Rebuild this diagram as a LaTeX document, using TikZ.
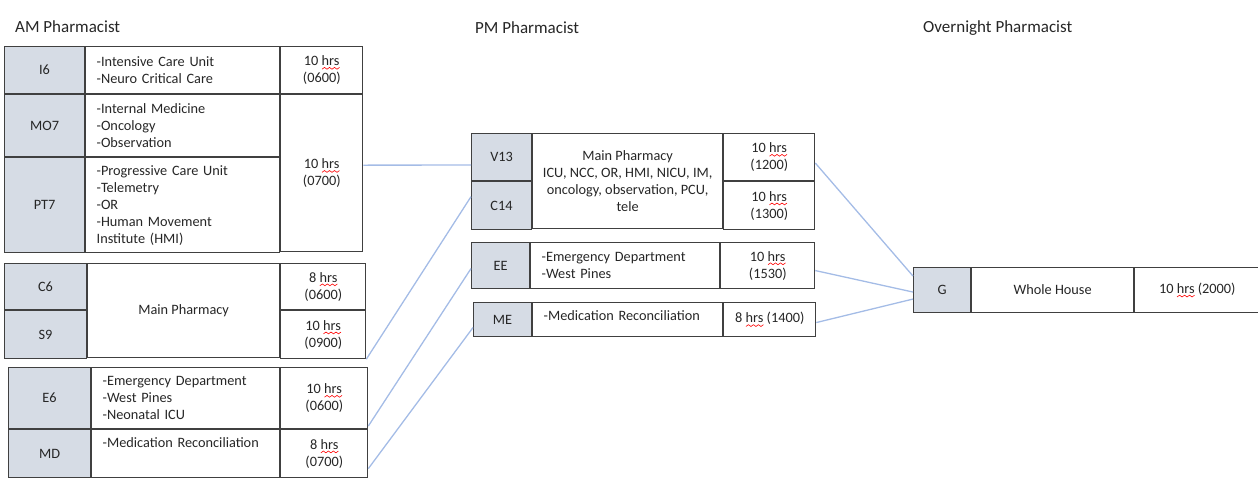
\documentclass[tikz,border=0pt]{standalone}
\usepackage{fontspec}
\setmainfont{Carlito}
\usepackage{tikz}
\usetikzlibrary{positioning}
\definecolor{keygrey}{RGB}{214,220,229}
\definecolor{cellline}{RGB}{64,64,64}
\definecolor{linkblue}{RGB}{164,188,230}
\definecolor{txt}{RGB}{38,38,38}
\tikzstyle{cell}=[draw=cellline, line width=1.1pt, inner sep=0pt, text=txt, font=\fontsize{14.3}{17}\selectfont]
\tikzstyle{keycell}=[cell, fill=keygrey, align=center]
\tikzstyle{listcell}=[cell, align=left, inner xsep=11pt]
\tikzstyle{midcell}=[cell, align=center]
\tikzstyle{head}=[anchor=west, inner sep=0pt, text=txt, font=\fontsize{17}{20}\selectfont]
\tikzstyle{link}=[draw=linkblue, line width=1.3pt]
% red spell-check wave under "hrs"
\newcommand{\hrsword}{\leavevmode\rlap{\raisebox{-4pt}{\tikz[x=1pt,y=1pt]\draw[red, line width=0.6pt] (0,0) \foreach \k in {1,...,7}{-- (\k*2.5,{mod(\k,2)*1.8})};}}hrs}

\begin{document}
\begin{tikzpicture}[x=1pt, y=-1pt]
\useasboundingbox (0,0) rectangle (1258,477);
%
  \node[head] (amh) at (15,27) {AM Pharmacist};
  \node[head] (pmh) at (475,28) {PM Pharmacist};
  \node[head] (onh) at (923,28) {Overnight Pharmacist};
% AM pharmacist
  \node[keycell, anchor=north west, minimum width=80pt, minimum height=47pt] (i6) at (4,46) {I6};
  \node[listcell, text width=172pt, minimum height=47pt, right=0pt of i6] (i6u) {-Intensive Care Unit\\-Neuro Critical Care};
  \node[midcell, minimum width=82pt, minimum height=47pt, right=0pt of i6u] (i6h) {10 \hrsword\\(0600)};
  \node[keycell, minimum width=80pt, minimum height=62pt, below=0pt of i6] (mo7) {MO7};
  \node[listcell, text width=172pt, minimum height=62pt, right=0pt of mo7] (mo7u) {-Internal Medicine\\-Oncology\\-Observation};
  \node[keycell, minimum width=80pt, minimum height=95pt, below=0pt of mo7] (pt7) {PT7};
  \node[listcell, text width=172pt, minimum height=95pt, right=0pt of pt7] (pt7u) {-Progressive Care Unit\\-Telemetry\\-OR\\-Human Movement\\Institute (HMI)};
  \node[midcell, minimum width=82pt, minimum height=157pt, below=0pt of i6h] (h0700) {10 \hrsword\\(0700)};
  \draw[cellline, line width=2.2pt] (pt7.north west) -- (pt7u.north east);
%
  \node[keycell, anchor=north west, minimum width=82pt, minimum height=46pt] (c6) at (4,263) {C6};
  \node[keycell, minimum width=82pt, minimum height=48pt, below=0pt of c6] (s9) {S9};
  \node[midcell, anchor=north west, minimum width=192pt, minimum height=94pt] (c6u) at (c6.north east) {Main Pharmacy};
  \node[midcell, anchor=north west, minimum width=85pt, minimum height=46pt] (c6h) at (c6u.north east) {8 \hrsword\\(0600)};
  \node[midcell, minimum width=85pt, minimum height=48pt, below=0pt of c6h] (s9h) {10 \hrsword\\(0900)};
%
  \node[keycell, anchor=north west, minimum width=82pt, minimum height=61pt] (e6) at (8,367) {E6};
  \node[keycell, minimum width=82pt, minimum height=48pt, below=0pt of e6] (md) {MD};
  \node[listcell, text width=166pt, minimum height=61pt, right=0pt of e6] (e6u) {-Emergency Department\\-West Pines\\-Neonatal ICU};
  \node[listcell, text width=166pt, minimum height=48pt, text height=10pt, text depth=22pt, right=0pt of md] (mdu) {-Medication Reconciliation};
  \node[midcell, minimum width=87pt, minimum height=61pt, right=0pt of e6u] (e6h) {10 \hrsword\\(0600)};
  \node[midcell, minimum width=87pt, minimum height=48pt, right=0pt of mdu] (mdh) {8 \hrsword\\(0700)};
% PM pharmacist
  \node[keycell, anchor=north west, minimum width=60pt, minimum height=47pt] (v13) at (471,133) {V13};
  \node[keycell, minimum width=60pt, minimum height=48pt, below=0pt of v13] (c14) {C14};
  \node[midcell, anchor=north west, minimum width=190pt, minimum height=95pt] (v13u) at (v13.north east) {Main Pharmacy\\ICU, NCC, OR, HMI, NICU, IM,\\oncology, observation, PCU,\\tele};
  \node[midcell, anchor=north west, minimum width=91pt, minimum height=47pt] (v13h) at (v13u.north east) {10 \hrsword\\(1200)};
  \node[midcell, minimum width=91pt, minimum height=48pt, below=0pt of v13h] (c14h) {10 \hrsword\\(1300)};
%
  \node[keycell, anchor=north west, minimum width=58pt, minimum height=46pt] (ee) at (471,242) {EE};
  \node[listcell, text width=167pt, minimum height=46pt, right=0pt of ee] (eeu) {-Emergency Department\\-West Pines};
  \node[midcell, minimum width=94pt, minimum height=46pt, right=0pt of eeu] (eeh) {10 \hrsword\\(1530)};
%
  \node[keycell, anchor=north west, minimum width=58pt, minimum height=34pt] (me) at (473,302) {ME};
  \node[listcell, text width=168pt, minimum height=34pt, text height=10pt, text depth=9pt, right=0pt of me] (meu) {-Medication Reconciliation};
  \node[midcell, minimum width=92pt, minimum height=34pt, right=0pt of meu] (meh) {8 \hrsword{} (1400)};
% overnight pharmacist
  \node[keycell, anchor=north west, minimum width=57pt, minimum height=45pt] (g) at (913,267) {G};
  \node[midcell, minimum width=162pt, minimum height=45pt, right=0pt of g] (gu) {Whole House};
  \node[midcell, minimum width=125pt, minimum height=45pt, right=0pt of gu] (gh) {10 \hrsword{} (2000)};
%
 \path[link]
	([yshift=8pt]h0700.east) edge ([yshift=-8pt]v13.west)
	(s9h.south east) edge ([yshift=9pt]c14.west)
	([yshift=3pt]e6h.south east) edge ([yshift=-3pt]ee.west)
	([yshift=-15pt]mdh.east) edge ([yshift=-8pt]me.west)
	([yshift=-6pt]v13h.east) edge ([yshift=14pt]g.west)
	([yshift=-5pt]eeh.east) edge ([yshift=-2pt]g.west)
	([yshift=-3pt]meh.east) edge ([yshift=-9pt]g.west);
%
\end{tikzpicture}
\end{document}
